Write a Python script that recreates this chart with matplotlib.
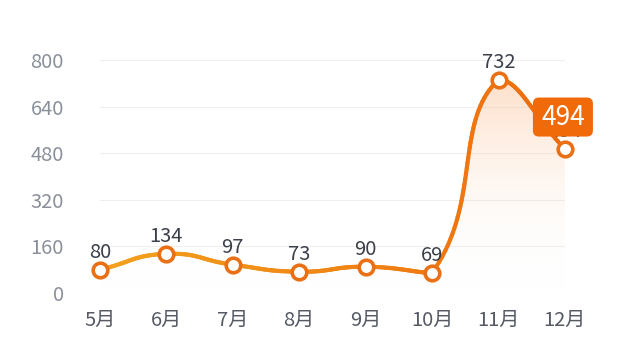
import numpy as np
import matplotlib.pyplot as plt
from matplotlib.collections import LineCollection
from matplotlib.colors import to_rgb, LinearSegmentedColormap
from matplotlib.patches import FancyBboxPatch, Polygon
from matplotlib.transforms import IdentityTransform

plt.rcParams['font.family'] = ['Noto Sans CJK SC', 'DejaVu Sans']

months = ['5月', '6月', '7月', '8月', '9月', '10月', '11月', '12月']
values = [80, 134, 97, 73, 90, 69, 732, 494]
yticks = [0, 160, 320, 480, 640, 800]
highlight = 7

x = np.arange(len(values), dtype=float)
y = np.array(values, dtype=float)

# pixel scale of one unit on each axis (axes ~465 x 233 px)
SX = 465 / (len(values) - 1)
SY = 233 / 800


def smooth_curve(xs, ys, smooth=0.5, steps=40):
    # bezier smoothing with control points kept inside the data box
    p = np.column_stack([xs * SX, ys * SY])
    lo, hi = p.min(axis=0), p.max(axis=0)
    n = len(p)
    cps = []
    for i in range(n):
        prev = p[max(i - 1, 0)]
        nxt = p[min(i + 1, n - 1)]
        v = (nxt - prev) * smooth
        d0 = np.hypot(*(p[i] - prev))
        d1 = np.hypot(*(p[i] - nxt))
        s = d0 + d1
        d0, d1 = d0 / s, d1 / s
        cps.append(np.clip(p[i] - v * d0, lo, hi))
        cps.append(np.clip(p[i] + v * d1, lo, hi))
    out = [p[0]]
    t = np.linspace(0, 1, steps)[1:, None]
    for i in range(n - 1):
        a, b, c, d = p[i], cps[2 * i + 1], cps[2 * i + 2], p[i + 1]
        seg = ((1 - t)**3 * a + 3 * (1 - t)**2 * t * b
               + 3 * (1 - t) * t**2 * c + t**3 * d)
        out.extend(seg)
    out = np.array(out)
    return out[:, 0] / SX, out[:, 1] / SY


sx, sy = smooth_curve(x, y)

fig = plt.figure(figsize=(6.3, 3.63), dpi=100)
ax = fig.add_axes([0.1587, 0.193, 0.738, 0.642])
ax.set_xlim(0, len(values) - 1)
ax.set_ylim(0, 800)

for t in yticks:
    ax.axhline(t, color='#efefef', lw=0.8, zorder=0)

# gradient fill under curve
fill_cmap = LinearSegmentedColormap.from_list(
    'f', [(1, 1, 1, 0), (0.98, 0.55, 0.25, 0.33)])
grad = np.linspace(0, 1, 256).reshape(-1, 1)
im = ax.imshow(grad, cmap=fill_cmap, origin='lower', aspect='auto',
               extent=[0, len(values) - 1, 0, 800], zorder=1)
poly = Polygon(np.column_stack([np.concatenate([sx, [sx[-1], sx[0]]]),
                                np.concatenate([sy, [0, 0]])]),
               closed=True, transform=ax.transData, facecolor='none',
               edgecolor='none')
ax.add_patch(poly)
im.set_clip_path(poly)

# gradient line
c0 = np.array(to_rgb('#f2a21e'))
c1 = np.array(to_rgb('#ee6a0c'))
pts = np.column_stack([sx, sy]).reshape(-1, 1, 2)
segs = np.concatenate([pts[:-1], pts[1:]], axis=1)
frac = (sx[:-1] - sx.min()) / (sx.max() - sx.min())
cols = [tuple(c0 + (c1 - c0) * f) for f in frac]
lc = LineCollection(segs, colors=cols, linewidths=3.0, capstyle='round',
                    joinstyle='round', zorder=3)
lc.set_clip_on(False)
ax.add_collection(lc)

ax.plot(x, y, 'o', ms=10.5, mfc='white', mec='#ea7016', mew=2.6,
        zorder=4, clip_on=False)

for i, v in enumerate(values):
    ax.annotate(str(v), (x[i], v), xytext=(0, 5), textcoords='offset points',
                ha='center', va='bottom', fontsize=14.5, color='#3a3f4a',
                zorder=5)

# tooltip box above the highlighted point
fig.canvas.draw()
cx, cy = ax.transData.transform((x[highlight], values[highlight]))
cx, cy = cx - 2, cy + 32
bw, bh = 60, 39
box = FancyBboxPatch((cx - bw / 2, cy - bh / 2), bw, bh,
                     boxstyle='round,pad=0,rounding_size=6',
                     transform=IdentityTransform(), fc='#f06a0a', ec='none',
                     zorder=6, clip_on=False)
ax.add_artist(box)
ax.text(cx, cy, str(values[highlight]), transform=IdentityTransform(),
        ha='center', va='center', fontsize=19, color='white', zorder=7)

ax.set_xticks(x)
ax.set_xticklabels(months, fontsize=14.5, color='#555a64')
ax.set_yticks(yticks)
ax.set_yticklabels([str(t) for t in yticks], fontsize=14.5, color='#8a909a')
ax.tick_params(length=0)
ax.tick_params(axis='y', pad=26)
ax.tick_params(axis='x', pad=12)
for s in ax.spines.values():
    s.set_visible(False)

fig.savefig('out.png', dpi=100)
